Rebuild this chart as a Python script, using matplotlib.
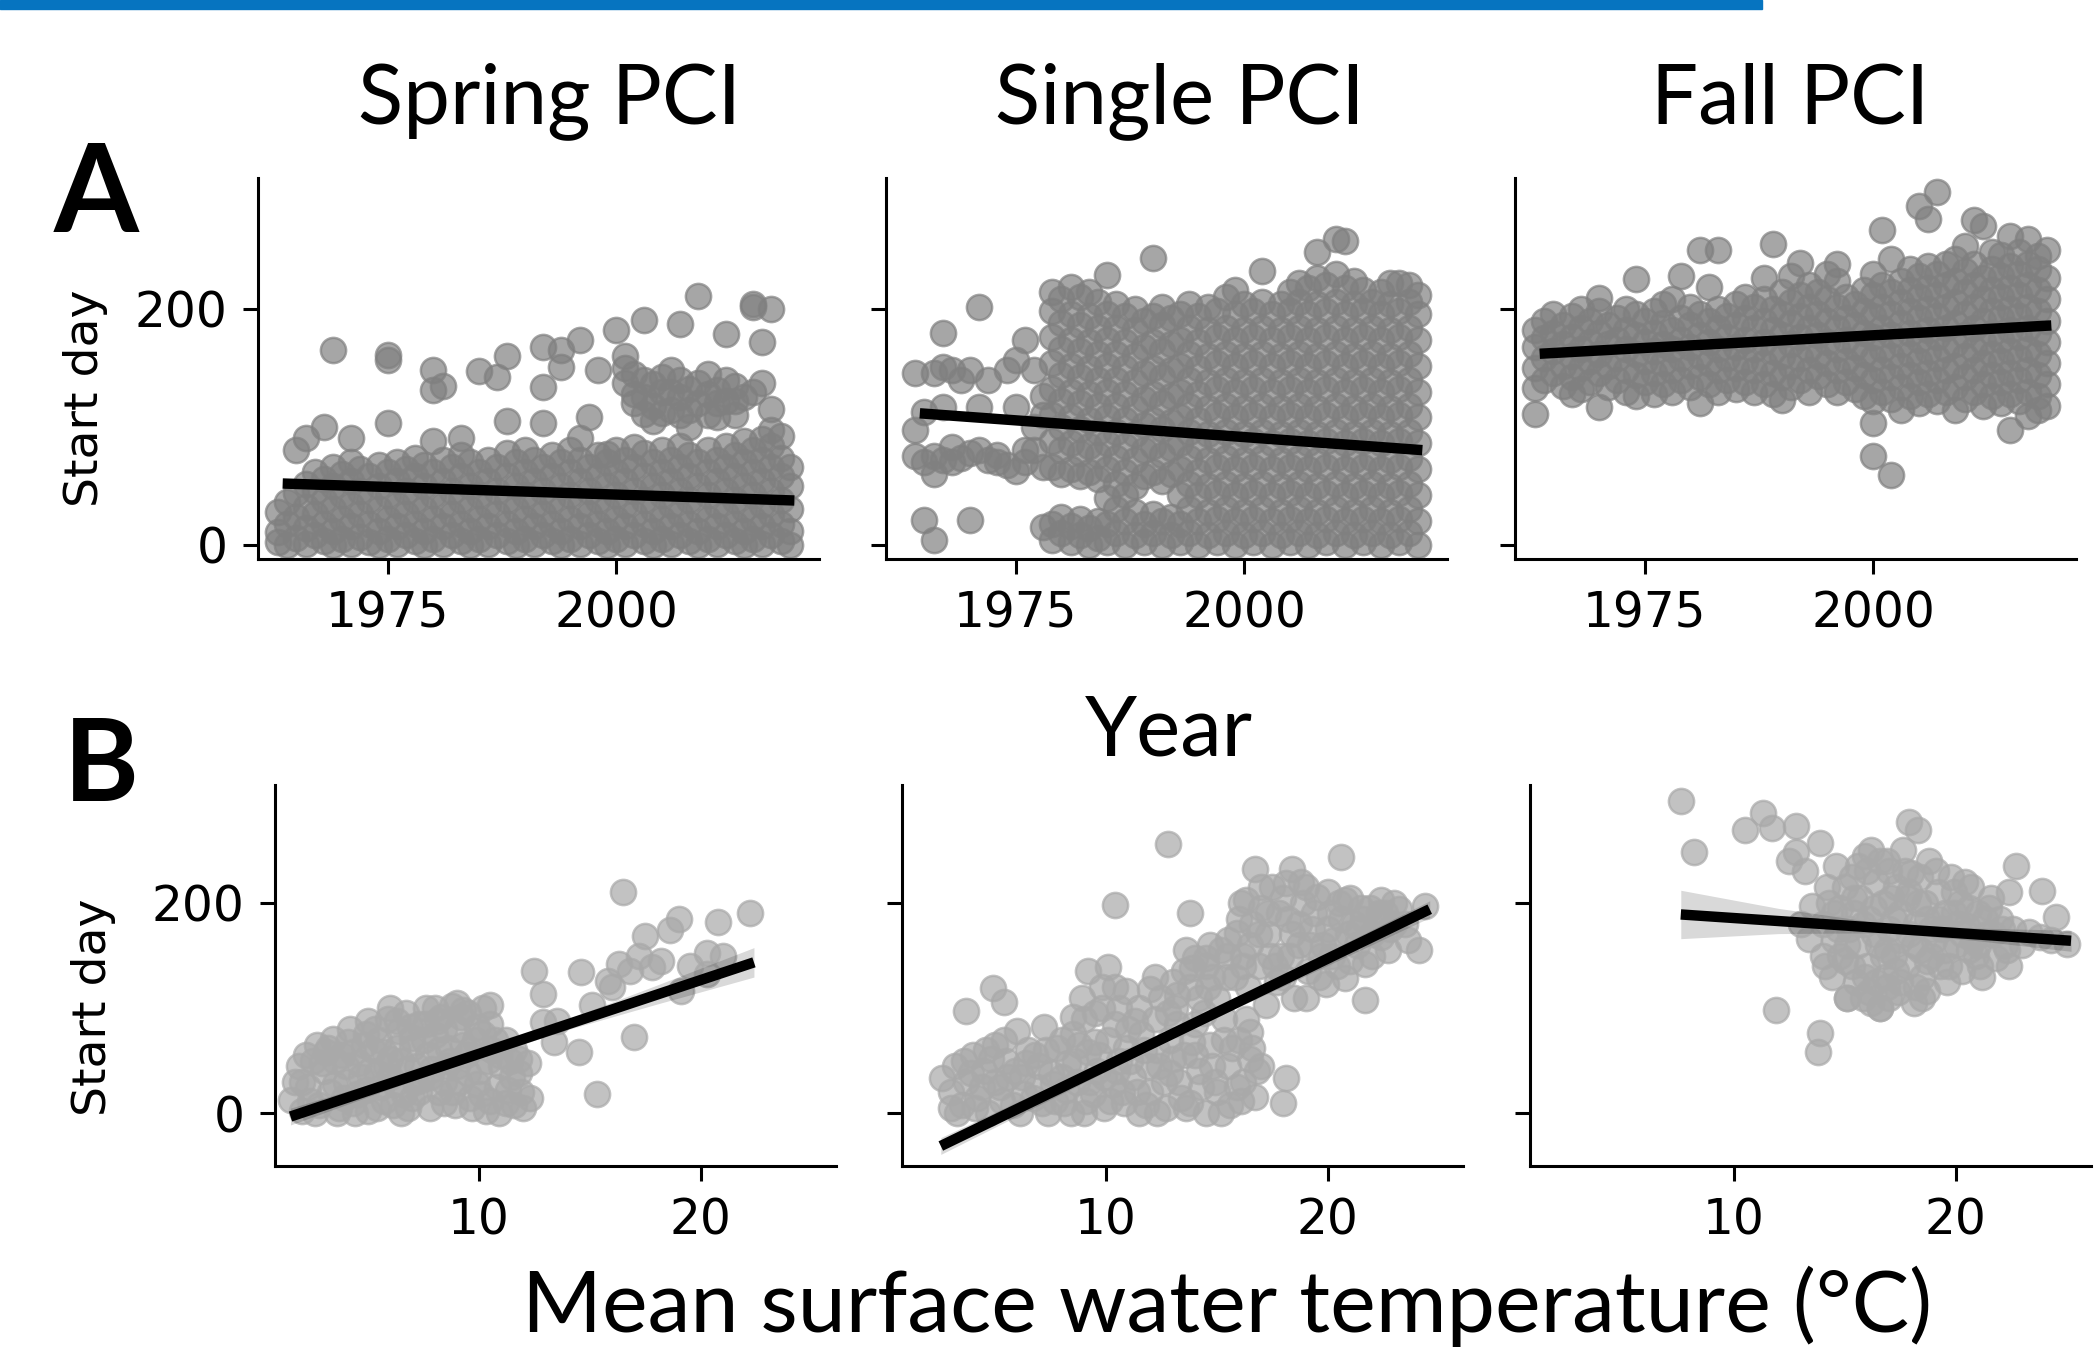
import matplotlib
matplotlib.use("Agg")
import matplotlib.pyplot as plt
from matplotlib.patches import Rectangle

W, H = 2099, 1348

# Start day of each PCI event, by year (top row)
spring_pci = {
    1963: [2, 11, 28], 1964: [0, 18, 36], 1965: [6, 24, 44, 80],
    1966: [1, 14, 32, 52, 91], 1967: [8, 26, 46, 62], 1968: [3, 18, 38, 56, 100],
    1969: [0, 12, 30, 50, 66, 165], 1970: [5, 22, 42, 60], 1971: [1, 16, 34, 54, 70, 91],
    1972: [7, 26, 46, 64], 1973: [2, 18, 38, 58], 1974: [0, 12, 30, 50, 68],
    1975: [5, 22, 42, 62, 103, 157, 161], 1976: [1, 16, 34, 54, 70], 1977: [8, 26, 46, 64],
    1978: [3, 18, 38, 58, 74], 1979: [0, 12, 30, 50, 68], 1980: [5, 22, 42, 62, 88, 131, 148],
    1981: [1, 16, 34, 54, 72, 135], 1982: [8, 26, 46, 66], 1983: [3, 18, 38, 58, 76, 91],
    1984: [0, 12, 30, 50, 70], 1985: [5, 22, 42, 62, 147], 1986: [1, 16, 34, 54, 72],
    1987: [8, 26, 46, 66, 142], 1988: [3, 18, 38, 58, 78, 105, 160], 1989: [0, 12, 30, 50, 70],
    1990: [5, 22, 42, 62, 80], 1991: [1, 16, 34, 54, 72], 1992: [8, 26, 46, 66, 103, 134, 168],
    1993: [3, 18, 38, 58, 76], 1994: [0, 12, 30, 50, 70, 151, 165], 1995: [5, 22, 42, 62, 80],
    1996: [1, 16, 34, 54, 72, 91, 174], 1997: [8, 26, 46, 66, 108], 1998: [3, 18, 38, 58, 76, 148],
    1999: [0, 12, 30, 50, 70, 77], 2000: [5, 22, 42, 62, 80, 182],
    2001: [1, 16, 34, 54, 72, 137, 150, 160], 2002: [8, 26, 46, 66, 83, 120, 128, 145],
    2003: [3, 18, 38, 58, 78, 111, 125, 140, 191], 2004: [0, 12, 30, 50, 70, 105, 118, 136],
    2005: [5, 22, 42, 62, 80, 112, 130, 142], 2006: [1, 16, 34, 54, 72, 114, 130, 148],
    2007: [8, 26, 46, 66, 84, 110, 125, 140, 187], 2008: [3, 18, 38, 58, 76, 100, 114, 132],
    2009: [0, 12, 30, 50, 70, 120, 137, 211], 2010: [5, 22, 42, 62, 80, 110, 128, 145],
    2011: [1, 16, 34, 54, 72, 108, 120, 131], 2012: [8, 26, 46, 66, 84, 122, 140, 179],
    2013: [3, 18, 38, 58, 76, 110, 122, 135], 2014: [0, 12, 30, 50, 70, 88, 125],
    2015: [5, 22, 42, 62, 80, 130, 202, 204], 2016: [1, 16, 34, 54, 72, 90, 137, 172],
    2017: [8, 26, 46, 66, 84, 97, 115, 200], 2018: [3, 18, 38, 58, 74, 92], 2019: [0, 12, 30, 50, 66],
}

single_pci = {
    1964: [75, 97, 146], 1965: [21, 70, 113], 1966: [4, 60, 75, 146], 1967: [72, 117, 151, 180],
    1968: [70, 83, 148], 1969: [74, 140], 1970: [21, 78, 148], 1971: [80, 117, 202],
    1972: [72, 140], 1973: [70, 76], 1974: [68, 148], 1975: [63, 117, 157],
    1976: [70, 80, 174], 1977: [80, 100, 148], 1978: [15, 66, 110, 126],
    1979: [4, 18, 66, 88, 110, 132, 154, 176, 198, 214],
    1980: [10, 24, 60, 80, 100, 122, 144, 166, 188, 208],
    1981: [2, 16, 64, 86, 108, 130, 152, 174, 196, 219],
    1982: [8, 22, 58, 78, 98, 120, 142, 164, 186, 210],
    1983: [0, 14, 62, 84, 106, 128, 150, 172, 194, 214],
    1984: [6, 20, 56, 76, 96, 118, 140, 162, 184, 206],
    1985: [2, 18, 40, 64, 86, 108, 130, 152, 174, 196, 229],
    1986: [10, 30, 52, 74, 96, 118, 140, 162, 184, 204],
    1987: [0, 20, 42, 62, 84, 106, 128, 150, 172, 194],
    1988: [8, 28, 50, 72, 94, 116, 138, 160, 182, 200],
    1989: [2, 18, 58, 80, 102, 124, 146, 168, 190],
    1990: [10, 26, 62, 84, 106, 128, 150, 172, 194, 243],
    1991: [0, 20, 54, 76, 98, 120, 142, 164, 186, 202],
    1992: [8, 24, 60, 82, 104, 126, 148, 170, 192],
    1993: [2, 18, 42, 64, 86, 108, 130, 152, 174, 196],
    1994: [10, 30, 52, 74, 96, 118, 140, 162, 184, 204],
    1995: [0, 20, 42, 62, 84, 106, 128, 150, 172, 194],
    1996: [8, 28, 50, 72, 94, 116, 138, 160, 182, 202],
    1997: [2, 22, 44, 66, 88, 110, 132, 154, 176, 198],
    1998: [10, 30, 52, 74, 96, 118, 140, 162, 184, 210],
    1999: [0, 20, 42, 64, 86, 108, 130, 152, 174, 196, 216],
    2000: [8, 28, 50, 72, 94, 116, 138, 160, 182, 204],
    2001: [2, 22, 44, 66, 88, 110, 132, 154, 176, 198],
    2002: [10, 30, 52, 74, 96, 118, 140, 162, 184, 206, 232],
    2003: [0, 20, 42, 64, 86, 108, 130, 152, 174, 196],
    2004: [8, 28, 50, 72, 94, 116, 138, 160, 182, 204],
    2005: [2, 22, 44, 66, 88, 110, 132, 154, 176, 198, 214],
    2006: [10, 30, 52, 74, 96, 118, 140, 162, 184, 206, 222],
    2007: [0, 20, 42, 64, 86, 108, 130, 152, 174, 196, 218],
    2008: [8, 28, 50, 72, 94, 116, 138, 160, 182, 204, 226, 248],
    2009: [2, 22, 44, 66, 88, 110, 132, 154, 176, 198, 220],
    2010: [10, 30, 52, 74, 96, 118, 140, 162, 184, 206, 230, 259],
    2011: [0, 20, 42, 64, 86, 108, 130, 152, 174, 196, 218, 258],
    2012: [8, 28, 50, 72, 94, 116, 138, 160, 182, 204, 224],
    2013: [2, 22, 44, 66, 88, 110, 132, 154, 176, 198, 216],
    2014: [10, 30, 52, 74, 96, 118, 140, 162, 184, 206],
    2015: [0, 20, 42, 64, 86, 108, 130, 152, 174, 196, 214],
    2016: [8, 28, 50, 72, 94, 116, 138, 160, 182, 204, 222],
    2017: [2, 22, 44, 66, 88, 110, 132, 154, 176, 198, 222],
    2018: [10, 30, 52, 74, 96, 118, 140, 162, 184, 206, 220],
    2019: [0, 20, 42, 64, 86, 108, 130, 152, 174, 196, 212],
}

fall_pci = {
    1963: [111, 133, 150, 168, 182], 1964: [140, 158, 175, 190], 1965: [146, 164, 180, 196],
    1966: [135, 152, 170, 186], 1967: [128, 142, 160, 176, 194], 1968: [132, 150, 166, 184, 200],
    1969: [138, 156, 172, 190], 1970: [117, 146, 162, 180, 198, 209], 1971: [134, 152, 170, 186],
    1972: [140, 158, 174, 192], 1973: [130, 148, 166, 182, 200], 1974: [126, 144, 162, 178, 196, 225],
    1975: [138, 156, 172, 190], 1976: [128, 146, 164, 180, 198], 1977: [136, 154, 170, 188, 204],
    1978: [130, 148, 166, 182, 208], 1979: [140, 158, 174, 192, 228], 1980: [134, 152, 168, 186, 202],
    1981: [120, 142, 160, 178, 196, 250], 1982: [136, 154, 172, 190, 219],
    1983: [130, 148, 166, 184, 200, 250], 1984: [140, 158, 176, 194], 1985: [132, 150, 168, 186, 204],
    1986: [138, 156, 174, 192, 210], 1987: [130, 148, 166, 184, 202],
    1988: [136, 154, 172, 190, 208, 226], 1989: [128, 146, 164, 182, 200, 255],
    1990: [123, 142, 160, 178, 196, 214], 1991: [134, 152, 170, 188, 206, 228],
    1992: [140, 158, 176, 194, 212, 239], 1993: [130, 148, 166, 184, 202, 220],
    1994: [143, 160, 178, 196, 214], 1995: [136, 154, 172, 190, 208, 230],
    1996: [130, 148, 166, 184, 202, 224, 238], 1997: [138, 156, 174, 192, 210],
    1998: [132, 150, 168, 186, 204], 1999: [126, 144, 162, 180, 198, 216],
    2000: [75, 103, 122, 140, 158, 176, 194, 212, 230], 2001: [130, 148, 166, 184, 202, 220, 267],
    2002: [59, 124, 142, 160, 178, 196, 214, 242], 2003: [114, 134, 152, 170, 188, 206, 224],
    2004: [126, 144, 162, 180, 198, 216, 234], 2005: [120, 138, 156, 174, 192, 210, 228, 287],
    2006: [128, 146, 164, 182, 200, 218, 236, 276], 2007: [122, 140, 158, 176, 194, 212, 230, 299],
    2008: [130, 148, 166, 184, 202, 220, 238], 2009: [114, 134, 152, 170, 188, 206, 224, 242],
    2010: [124, 142, 160, 178, 196, 214, 232, 253], 2011: [130, 148, 166, 184, 202, 220, 238, 275],
    2012: [118, 136, 154, 172, 190, 208, 226, 270], 2013: [126, 144, 162, 180, 198, 216, 234, 248],
    2014: [120, 138, 156, 174, 192, 210, 228, 246], 2015: [97, 128, 146, 164, 182, 200, 218, 236, 262],
    2016: [122, 140, 158, 176, 194, 212, 230, 248], 2017: [109, 130, 148, 166, 184, 202, 220, 238, 259],
    2018: [114, 126, 144, 162, 180, 198, 216, 234, 245], 2019: [118, 136, 154, 172, 190, 208, 226, 250],
}

# (mean surface water temperature, start day) pairs (bottom row)
spring_temp = [
    (1.5, 13), (1.9, 45), (2.0, 2), (2.3, 25), (2.7, 65), (2.8, 8), (3.0, 40), (3.4, 71), (3.3, 20),
    (3.6, 0), (3.8, 55), (4.0, 30), (4.2, 80), (4.3, 10), (4.6, 48), (4.8, 65), (4.9, 22), (5.0, 88),
    (5.0, 2), (5.4, 38), (5.5, 70), (5.7, 12), (5.9, 90), (6.0, 52), (6.2, 28), (6.4, 78), (6.5, 0),
    (6.7, 95), (6.8, 42), (7.0, 62), (7.0, 15), (7.3, 85), (7.4, 32), (7.6, 100), (7.7, 55), (7.8, 5),
    (8.0, 74), (8.2, 20), (8.3, 92), (8.5, 45), (8.6, 62), (8.8, 102), (8.9, 8), (9.0, 80), (9.1, 30),
    (9.4, 55), (9.5, 95), (9.6, 15), (9.8, 70), (10.0, 40), (10.2, 100), (10.3, 2), (10.5, 85),
    (10.6, 60), (10.8, 25), (11.0, 45), (11.2, 10), (11.5, 35), (11.6, 60), (11.9, 20), (12.0, 5),
    (12.2, 48), (3.5, 50), (5.2, 60), (6.1, 8), (7.2, 45), (8.4, 30), (9.3, 65), (10.1, 18),
    (2.0, 30), (2.5, 50), (2.6, 0), (3.1, 58), (3.9, 15), (4.1, 68), (4.4, 0), (4.7, 35), (5.3, 80),
    (5.6, 25), (5.8, 45), (6.3, 62), (6.6, 18), (6.9, 82), (7.1, 30), (7.5, 70), (7.9, 42), (8.1, 88),
    (8.4, 10), (8.7, 50), (9.2, 92), (9.5, 38), (9.7, 5), (9.9, 82), (10.4, 50), (10.7, 70),
    (10.9, 0), (11.3, 22), (11.4, 50), (11.8, 38), (12.3, 15), (6.0, 100), (8.0, 100), (9.0, 105),
    (1.7, 30), (2.2, 55), (2.4, 12), (2.9, 48), (3.2, 62), (3.5, 28), (3.7, 5), (4.0, 45), (4.3, 58),
    (4.5, 18), (4.9, 75), (5.1, 40), (5.4, 5), (5.7, 58), (6.0, 35), (6.3, 88), (6.5, 50), (6.8, 5),
    (7.0, 72), (7.3, 20), (7.6, 85), (7.8, 35), (8.2, 60), (8.4, 80), (8.8, 20), (9.0, 45),
    (9.3, 98), (9.6, 60), (9.9, 28), (10.2, 75), (10.5, 12), (10.9, 55), (11.2, 70), (11.6, 8),
    (11.8, 52),
    (10.5, 103), (12.5, 135), (12.9, 113), (12.9, 87), (13.4, 68), (13.5, 88), (14.5, 58),
    (14.6, 134), (15.1, 103), (15.3, 18), (15.8, 126), (16.0, 120), (16.3, 142), (16.5, 210),
    (16.8, 135), (17.0, 73), (17.2, 150), (17.5, 169), (17.8, 139), (18.2, 145), (18.6, 174),
    (19.0, 185), (19.1, 116), (19.5, 140), (20.3, 152), (20.3, 132), (20.8, 182), (21.0, 150),
    (22.2, 190),
]

single_temp = [
    (2.6, 34), (3.0, 20), (3.2, 45), (3.5, 8), (3.7, 30), (4.0, 55), (4.2, 15), (4.5, 40), (4.7, 0),
    (5.0, 65), (5.2, 25), (5.5, 50), (5.8, 8), (6.0, 78), (6.2, 35), (6.5, 60), (6.7, 15), (7.0, 45),
    (7.2, 82), (7.4, 0), (7.6, 28), (7.8, 62), (8.1, 10), (8.3, 48), (8.5, 75), (8.7, 30), (9.0, 0),
    (9.2, 58), (9.4, 18), (9.6, 40), (9.9, 5), (10.1, 70), (10.3, 28), (10.6, 50), (10.8, 10),
    (11.0, 80), (11.2, 35), (11.5, 0), (11.7, 60), (12.0, 20), (12.2, 90), (12.4, 45), (12.7, 5),
    (12.9, 70), (13.1, 100), (13.3, 30), (13.5, 55), (13.8, 120), (13.8, 10), (14.0, 85), (14.2, 40),
    (14.5, 140), (14.5, 0), (14.7, 65), (15.0, 110), (15.0, 20), (15.3, 90), (15.5, 45), (15.6, 8),
    (15.8, 130), (16.0, 70), (16.2, 30), (16.5, 52), (16.5, 77), (16.7, 16), (18.0, 10), (18.1, 34),
    (3.3, 0), (3.9, 38), (4.4, 25), (4.8, 52), (5.3, 12), (5.6, 35), (6.1, 0), (6.4, 48), (6.9, 25),
    (7.3, 60), (7.7, 12), (8.0, 35), (8.4, 0), (8.8, 65), (9.3, 30), (9.7, 55), (10.2, 12),
    (10.5, 40), (10.9, 62), (11.4, 20), (11.9, 45), (12.3, 0), (12.6, 30), (13.0, 52), (13.4, 15),
    (13.9, 68), (14.3, 25), (14.8, 45), (15.2, 0), (15.7, 62), (16.1, 12), (16.8, 40),
    (3.0, 5), (3.6, 50), (4.1, 5), (4.6, 60), (5.0, 30), (5.4, 70), (5.9, 40), (6.3, 18), (6.8, 55),
    (7.1, 10), (7.5, 38), (8.0, 70), (8.2, 22), (8.6, 50), (9.1, 12), (9.5, 68), (9.9, 35),
    (10.4, 85), (10.7, 20), (11.1, 50), (11.6, 75), (11.8, 8), (12.3, 60), (12.9, 38), (13.2, 85),
    (13.6, 5), (14.0, 55), (14.4, 95), (14.9, 30), (15.3, 70), (15.9, 25), (16.3, 90), (16.6, 62),
    (17.0, 45), (9.0, 90), (9.8, 120), (10.6, 100), (11.3, 88), (12.2, 130), (13.2, 112),
    (13.9, 138), (14.6, 120),
    (11.5, 100), (12.0, 118), (12.8, 95), (13.5, 135), (14.2, 110), (14.7, 160), (15.4, 130),
    (16.2, 150), (8.9, 110), (9.2, 135), (9.5, 95), (10.1, 139), (10.4, 120), (10.9, 116),
    (8.5, 92), (9.8, 100), (12.5, 110), (13.0, 125), (13.6, 155), (14.0, 148), (14.5, 148),
    (15.2, 155), (14.8, 130), (15.9, 171), (15.5, 150), (16.0, 185), (16.3, 203), (16.5, 160),
    (16.7, 232), (16.9, 140), (17.0, 195), (17.2, 103), (17.3, 170), (17.5, 215), (17.7, 125),
    (17.9, 150), (18.1, 219), (18.2, 185), (18.4, 232), (18.5, 110), (18.7, 160), (18.9, 200),
    (19.1, 135), (19.3, 175), (19.5, 206), (19.7, 150), (19.9, 123), (20.1, 190), (20.3, 165),
    (20.6, 244), (20.8, 203), (20.8, 129), (21.0, 145), (21.2, 180), (21.5, 195), (21.7, 142),
    (21.7, 108), (22.0, 170), (22.4, 203), (22.4, 168), (22.7, 155), (23.2, 194), (23.5, 180),
    (24.1, 155), (24.4, 197), (16.2, 140), (16.6, 180), (17.0, 215), (17.4, 150), (17.8, 190),
    (18.0, 130), (18.4, 170), (18.8, 220), (19.0, 110), (19.4, 190), (19.8, 160), (20.0, 210),
    (20.4, 140), (20.6, 185), (21.0, 205), (21.3, 160), (21.6, 185), (22.0, 150), (22.3, 190),
    (22.8, 175), (23.0, 200), (23.6, 165),
    (15.5, 165), (16.1, 200), (16.4, 120), (16.9, 170), (17.3, 190), (17.6, 140), (18.0, 205),
    (18.3, 150), (18.7, 180), (19.0, 215), (19.2, 160), (19.6, 130), (20.0, 175), (20.2, 150),
    (20.5, 200), (20.9, 170), (21.4, 175), (21.9, 195), (22.2, 180), (22.6, 190), (23.0, 180),
    (12.8, 256), (10.4, 198), (13.8, 190), (3.7, 97), (4.9, 119), (5.4, 106),
]

fall_temp = [
    (13.4, 166), (13.5, 197), (14.0, 150), (14.0, 180), (14.2, 215), (14.4, 130), (14.5, 165),
    (14.6, 235), (14.8, 195), (15.0, 145), (15.1, 110), (15.2, 175), (15.3, 225), (15.5, 125),
    (15.6, 160), (15.7, 205), (15.9, 245), (16.0, 140), (16.1, 185), (16.2, 105), (16.4, 220),
    (16.5, 160), (16.6, 100), (16.7, 200), (16.8, 130), (16.9, 240), (17.0, 175), (17.2, 150),
    (17.3, 215), (17.4, 115), (17.5, 190), (17.6, 250), (17.8, 140), (17.9, 170), (18.0, 228),
    (18.1, 105), (18.3, 200), (18.4, 155), (18.5, 130), (18.7, 185), (18.7, 116), (18.8, 240),
    (19.0, 165), (19.2, 210), (19.3, 140), (19.5, 190), (19.6, 125), (19.8, 225), (20.0, 160),
    (20.2, 200), (20.3, 135), (20.5, 178), (20.7, 215), (20.9, 150), (21.0, 190), (21.2, 130),
    (21.4, 170), (21.6, 205), (21.8, 148), (22.0, 185), (22.2, 160), (22.4, 140), (22.6, 175),
    (22.7, 235), (23.0, 160), (23.3, 172), (23.8, 168), (23.9, 211), (24.3, 165), (24.5, 187),
    (25.0, 161), (14.8, 150), (15.4, 190), (16.0, 230), (16.3, 170), (16.9, 120), (17.1, 205),
    (17.7, 230), (18.2, 180), (18.9, 150), (19.4, 175), (19.9, 210), (20.6, 155), (21.3, 185),
    (14.3, 200), (14.7, 175), (15.0, 215), (15.3, 140), (15.8, 180), (16.2, 250), (16.4, 125),
    (16.7, 150), (17.0, 230), (17.3, 135), (17.5, 165), (17.9, 210), (18.2, 120), (18.6, 200),
    (18.9, 175), (19.1, 230), (19.7, 140), (20.1, 180), (20.4, 220), (20.8, 165), (21.1, 140),
    (21.5, 195), (22.1, 175), (22.4, 210), (14.1, 140), (15.6, 235), (16.1, 115),
    (14.5, 190), (15.1, 160), (15.4, 205), (15.9, 130), (16.3, 195), (16.6, 240), (16.9, 155),
    (17.2, 185), (17.5, 125), (17.8, 205), (18.1, 160), (18.4, 225), (18.7, 145), (19.2, 185),
    (19.5, 155), (19.9, 190), (20.3, 170), (20.6, 195), (21.0, 160), (21.7, 170), (22.3, 155),
    (15.8, 110), (17.0, 110), (18.5, 110),
    (7.6, 297), (8.2, 248), (10.5, 269), (11.3, 285), (11.7, 271), (12.8, 273), (12.8, 248),
    (13.9, 257), (17.9, 277), (18.3, 269), (11.9, 98), (13.9, 76), (13.8, 58), (15.1, 110),
    (16.6, 100), (13.0, 180), (12.5, 240), (13.2, 230),
]

# fitted lines (end points)
trend_year = [[1963.5, 2019.5], [1964.5, 2019.5], [1963.5, 2019.5]]
trend_year_day = [[52, 37.6], [111.5, 80.3], [162, 186]]
trend_temp = [[1.5, 22.4], [2.55, 24.6], [7.6, 25.2]]
trend_temp_day = [[-3, 143.5], [-31, 194], [189, 164]]

# confidence bands of the temperature fits
band_temp = [[1.5, 6, 10, 14, 18, 22.4], [2.55, 13, 24.6], [7.6, 12, 17, 21, 25.2]]
band_low = [[-11, 23.5, 52.6, 79.6, 103.7, 129.5], [-39, 71.6, 186], [166, 170.8, 171.7, 164, 154]]
band_high = [[5, 33.5, 60.6, 89.6, 121.7, 157.5], [-23, 79.6, 202], [212, 194.8, 179.7, 176, 174]]

titles = ["Spring PCI", "Single PCI", "Fall PCI"]


def flatten(per_year):
    xs, ys = [], []
    for year, days in per_year.items():
        xs += [year] * len(days)
        ys += days
    return xs, ys


def style_axis(ax):
    for side in ["top", "right"]:
        ax.spines[side].set_visible(False)
    for side in ["left", "bottom"]:
        ax.spines[side].set_linewidth(2.2)
    ax.tick_params(labelsize=35, length=11, width=2.2, pad=11)


fig = plt.figure(figsize=(W / 100, H / 100), dpi=100)

# blue bar at the top of the slide
fig.patches.append(Rectangle((0, 1 - 9 / H), 1762 / W, 9 / H, transform=fig.transFigure,
                             color="#0674C0", zorder=5))

top_left = [258, 886, 1515]
bot_left = [275, 902, 1530]

year_data = [spring_pci, single_pci, fall_pci]
temp_data = [spring_temp, single_temp, fall_temp]
dot = dict(s=330, alpha=0.7, linewidths=1.8, zorder=2)

for i in range(3):
    # top row: start day vs year
    ax = fig.add_axes([top_left[i] / W, 1 - 559 / H, 561 / W, 381 / H])
    xs, ys = flatten(year_data[i])
    ax.scatter(xs, ys, color="gray", **dot)
    ax.plot(trend_year[i], trend_year_day[i], color="black", lw=7.5, zorder=3,
            solid_capstyle="butt")
    ax.set_xlim(1960.8, 2022.2)
    ax.set_ylim(-12, 311)
    ax.set_xticks([1975, 2000])
    ax.set_yticks([0, 200])
    if i > 0:
        ax.set_yticklabels([])
    style_axis(ax)

    # bottom row: start day vs temperature
    ax = fig.add_axes([bot_left[i] / W, 1 - 1166 / H, 561 / W, 381 / H])
    tx = [p[0] for p in temp_data[i]]
    ty = [p[1] for p in temp_data[i]]
    ax.scatter(tx, ty, color="darkgray", **dot)
    ax.fill_between(band_temp[i], band_low[i], band_high[i], color="black", alpha=0.15,
                    lw=0, zorder=3)
    ax.plot(trend_temp[i], trend_temp_day[i], color="black", lw=7.5, zorder=4,
            solid_capstyle="butt")
    ax.set_xlim(0.8, 26.1)
    ax.set_ylim(-50, 312)
    ax.set_xticks([10, 20])
    ax.set_yticks([0, 200])
    if i > 0:
        ax.set_yticklabels([])
    style_axis(ax)

big = "Lato"
for x, t in zip([549, 1180, 1790], titles):
    fig.text(x / W, 1 - 123 / H, t, fontsize=60, family=big, ha="center", va="baseline")
fig.text(1169 / W, 1 - 755 / H, "Year", fontsize=60, family=big, ha="center", va="baseline")
fig.text(1227 / W, 1 - 1332 / H, "Mean surface water temperature (°C)", fontsize=62,
         family=big, ha="center", va="baseline")
fig.text(96 / W, 1 - 232 / H, "A", fontsize=88, family=big, weight="bold",
         ha="center", va="baseline")
fig.text(101 / W, 1 - 801 / H, "B", fontsize=82, family=big, weight="bold",
         ha="center", va="baseline")
fig.text(86 / W, 1 - 398 / H, "Start day", fontsize=34, rotation=90, ha="center", va="center")
fig.text(94 / W, 1 - 1007 / H, "Start day", fontsize=34, rotation=90, ha="center", va="center")

fig.savefig("out.png", dpi=100)
